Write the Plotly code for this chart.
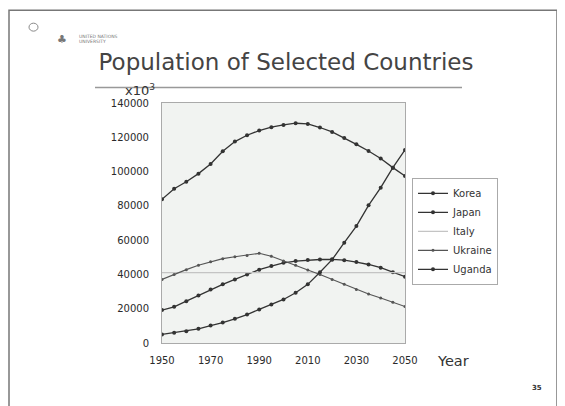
import plotly.graph_objects as go

years = list(range(1950, 2051, 5))
korea = [19200, 21100, 24400, 27700, 31200, 34200, 37100, 40000, 42800, 44900, 46800,
         47800, 48400, 48700, 48800, 48300, 47200, 45800, 43900, 41300, 38700]
japan = [83800, 90000, 94100, 98800, 104400, 111800, 117500, 121200, 123900, 125900, 127200,
         128200, 127800, 125700, 123100, 119600, 115900, 112000, 107600, 102300, 97400]
italy = [41000] * 21
ukraine = [37100, 40000, 42800, 45300, 47400, 49200, 50300, 51100, 52300, 50600, 47800,
           45400, 42600, 40000, 37100, 34200, 31200, 28600, 26200, 23700, 21300]
uganda = [5000, 6000, 6900, 8300, 10200, 11900, 14100, 16600, 19600, 22500, 25400,
          29300, 34200, 41300, 48600, 58500, 68200, 80300, 90600, 102300, 112600]
x_ticks = [1950, 1970, 1990, 2010, 2030, 2050]
y_ticks = [0, 20000, 40000, 60000, 80000, 100000, 120000, 140000]

series = [
    ("Korea", korea, "#333333", 1.3, 4),
    ("Japan", japan, "#333333", 1.3, 4),
    ("Italy", italy, "#c4c4c4", 1.3, 0),
    ("Ukraine", ukraine, "#555555", 1.1, 3),
    ("Uganda", uganda, "#333333", 1.3, 4),
]

fig = go.Figure()
for name, vals, col, w, ms in series:
    fig.add_trace(go.Scatter(
        x=years, y=vals, name=name,
        mode="lines+markers" if ms else "lines",
        line=dict(color=col, width=w),
        marker=dict(size=ms, color=col),
    ))

# the page body has an 8px margin; work in window pixels and offset
OFF = 8
W, H = 565 - OFF, 406 - OFF
L, R, T, B = 162, 405, 103, 343.5   # plot area in window pixels

def px(x):
    return (x - L) / (R - L)

def py(y):
    return (B - y) / (B - T)

fig.update_layout(
    width=W, height=H,
    margin=dict(l=L - OFF, r=W - (R - OFF), t=T - OFF, b=H - (B - OFF), pad=0),
    paper_bgcolor="white",
    plot_bgcolor="#f1f3f1",
    font=dict(family="DejaVu Sans", color="#333333"),
    showlegend=True,
    legend=dict(
        x=px(412), y=py(178), xanchor="left", yanchor="top",
        bgcolor="white", bordercolor="#aaaaaa", borderwidth=1,
        font=dict(size=10, color="#333333"),
    ),
    title=dict(
        text="Population of Selected Countries",
        x=(286 - OFF) / W, y=1 - (62 - OFF) / H, xanchor="center", yanchor="middle",
        font=dict(size=23, color="#444444", family="DejaVu Sans"),
    ),
)

fig.update_xaxes(
    range=[1950, 2050], tickvals=x_ticks, ticktext=[str(v) for v in x_ticks],
    showgrid=False, zeroline=False, showline=True, linecolor="#aaaaaa", linewidth=1,
    mirror=True, ticks="", ticklabelstandoff=8,
    tickfont=dict(size=10, color="#2a2a2a", family="DejaVu Sans"),
)
fig.update_yaxes(
    range=[0, 140000], tickvals=y_ticks, ticktext=[str(v) for v in y_ticks],
    showgrid=False, zeroline=False, showline=True, linecolor="#aaaaaa", linewidth=1,
    mirror=True, ticks="", ticklabelstandoff=10,
    tickfont=dict(size=10, color="#2a2a2a", family="DejaVu Sans"),
)

# rule under title
fig.add_shape(type="line", xref="paper", yref="paper",
              x0=px(95), x1=px(462), y0=py(87.5), y1=py(87.5),
              line=dict(color="#999999", width=1.5))
# slide border (left, top, right)
fig.add_shape(type="path", xref="paper", yref="paper",
              path=f"M {px(9)} {py(410)} L {px(9)} {py(10)} L {px(557)} {py(10)} L {px(557)} {py(410)}",
              line=dict(color="#777777", width=1.5))
# logo marks
fig.add_shape(type="circle", xref="paper", yref="paper",
              x0=px(29), x1=px(38), y0=py(31), y1=py(23),
              line=dict(color="#888888", width=1))


def note(x, y, text, size, color="#333333", xanchor="center"):
    fig.add_annotation(xref="paper", yref="paper", x=px(x), y=py(y),
                       xanchor=xanchor, yanchor="middle",
                       text=text, showarrow=False,
                       font=dict(size=size, color=color))


note(62, 39, "♣", 11, "#777777")
note(77, 36, "UNITED NATIONS", 4.5, "#777777", "left")
note(77, 41, "UNIVERSITY", 4.5, "#777777", "left")
note(140, 90, "x10<sup>3</sup>", 13)
note(453, 362, "Year", 14.5)
note(537, 389, "<b>35</b>", 7)

fig.write_html("out.html")
